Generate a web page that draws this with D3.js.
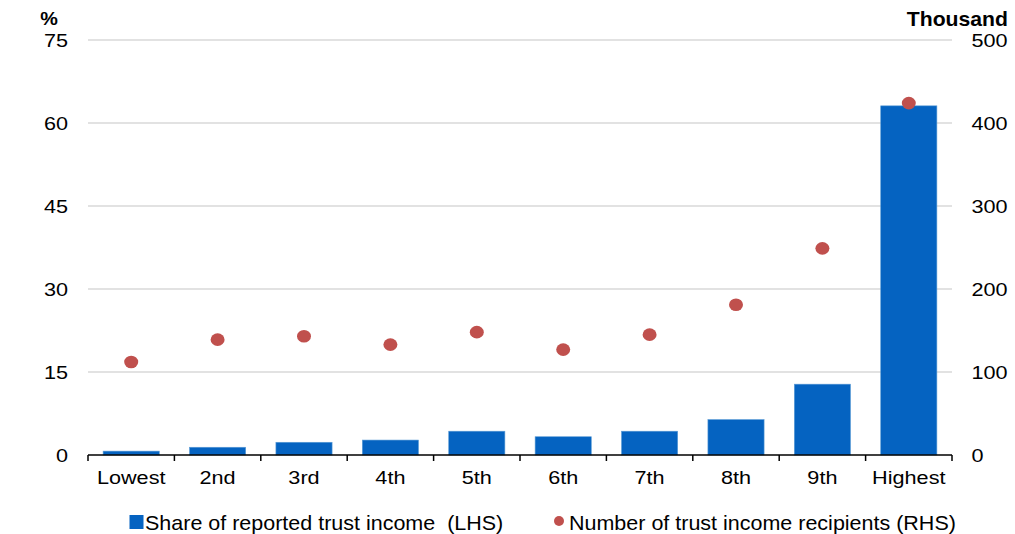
<!DOCTYPE html>
<html><head><meta charset="utf-8">
<script src="https://cdn.jsdelivr.net/npm/d3@7"></script>
<style>body{margin:0;background:#fff}svg{display:block;font-family:"Liberation Sans",Arial,sans-serif}</style>
</head><body>
<svg id="c" width="1015" height="534"></svg>
<script>
const categories = ["Lowest","2nd","3rd","4th","5th","6th","7th","8th","9th","Highest"];
const shareValues = [0.7,1.4,2.3,2.7,4.3,3.3,4.3,6.4,12.8,63.1];
const recipientValues = [112,139,143,133,148,127,145,181,249,424];
const leftTicks = [0,15,30,45,60,75];
const rightTicks = [0,100,200,300,400,500];

const svg = d3.select("#c");
const m = {l:88, r:952, t:40, b:455};
const x = d3.scaleBand().domain(categories).range([m.l, m.r]).paddingInner(0.35).paddingOuter(0.175);
const yL = d3.scaleLinear().domain([0,75]).range([m.b, m.t]);
const yR = d3.scaleLinear().domain([0,500]).range([m.b, m.t]);
const SX = 1.17;
const tf = (px, py, s) => `translate(${px},${py}) scale(${s},1)`;

// gridlines
svg.append("g").selectAll("line").data(leftTicks.filter(d=>d>0)).join("line")
  .attr("x1", m.l).attr("x2", m.r).attr("y1", d=>yL(d)).attr("y2", d=>yL(d))
  .attr("stroke", "#d9d9d9").attr("stroke-width", 1.3);

// bars
svg.append("g").selectAll("rect").data(shareValues).join("rect")
  .attr("x", (d,i)=>x(categories[i])).attr("width", x.bandwidth())
  .attr("y", d=>yL(d)).attr("height", d=>yL(0)-yL(d))
  .attr("fill", "#0563C1").attr("stroke", "#5b9bd5").attr("stroke-width", 0.6);

// dots
svg.append("g").selectAll("ellipse").data(recipientValues).join("ellipse")
  .attr("cx", (d,i)=>x(categories[i]) + x.bandwidth()/2).attr("cy", d=>yR(d))
  .attr("rx", 7).attr("ry", 6.3).attr("fill", "#C0504D");

// x axis
const xAxis = svg.append("g").attr("transform", `translate(0,${m.b})`);
xAxis.append("line").attr("x1", m.l).attr("x2", m.r).attr("stroke", "#000").attr("stroke-width", 1.5);
const step = x.step();
const bounds = d3.range(categories.length+1).map(i => m.l + i*step);
xAxis.selectAll("line.t").data(bounds).join("line").attr("class","t")
  .attr("x1", d=>d).attr("x2", d=>d).attr("y1", 0).attr("y2", 6).attr("stroke", "#000").attr("stroke-width", 1.5);
xAxis.selectAll("text").data(categories).join("text")
  .attr("transform", d=>tf(x(d)+x.bandwidth()/2, 29, SX)).attr("text-anchor","middle")
  .attr("font-size", 18.5).attr("fill", "#000").text(d=>d);

// left axis labels
svg.append("g").selectAll("text").data(leftTicks).join("text")
  .attr("transform", d=>tf(68, yL(d)+6.5, SX)).attr("text-anchor","end")
  .attr("font-size", 18.5).attr("fill","#000").text(d=>d);
// right axis labels
svg.append("g").selectAll("text").data(rightTicks).join("text")
  .attr("transform", d=>tf(971.5, yR(d)+6.5, SX)).attr("text-anchor","start")
  .attr("font-size", 18.5).attr("fill","#000").text(d=>d);

svg.append("text").attr("transform", tf(49, 25, 1.1)).attr("text-anchor","middle")
  .attr("font-size", 18).attr("font-weight","bold").text("%");
svg.append("text").attr("transform", tf(1008, 26, 1.06)).attr("text-anchor","end")
  .attr("font-size", 20).attr("font-weight","bold").text("Thousand");

// legend
const lg = svg.append("g");
lg.append("rect").attr("x", 129.5).attr("y", 515).attr("width", 14).attr("height", 14).attr("fill", "#0563C1");
lg.append("text").attr("transform", tf(145, 530, 1.075)).attr("font-size", 20)
  .style("white-space","pre").text("Share of reported trust income  (LHS)");
lg.append("circle").attr("cx", 559).attr("cy", 521).attr("r", 5).attr("fill", "#C0504D");
lg.append("text").attr("transform", tf(569, 530, 1.075)).attr("font-size", 20)
  .text("Number of trust income recipients (RHS)");
</script>
</body></html>
